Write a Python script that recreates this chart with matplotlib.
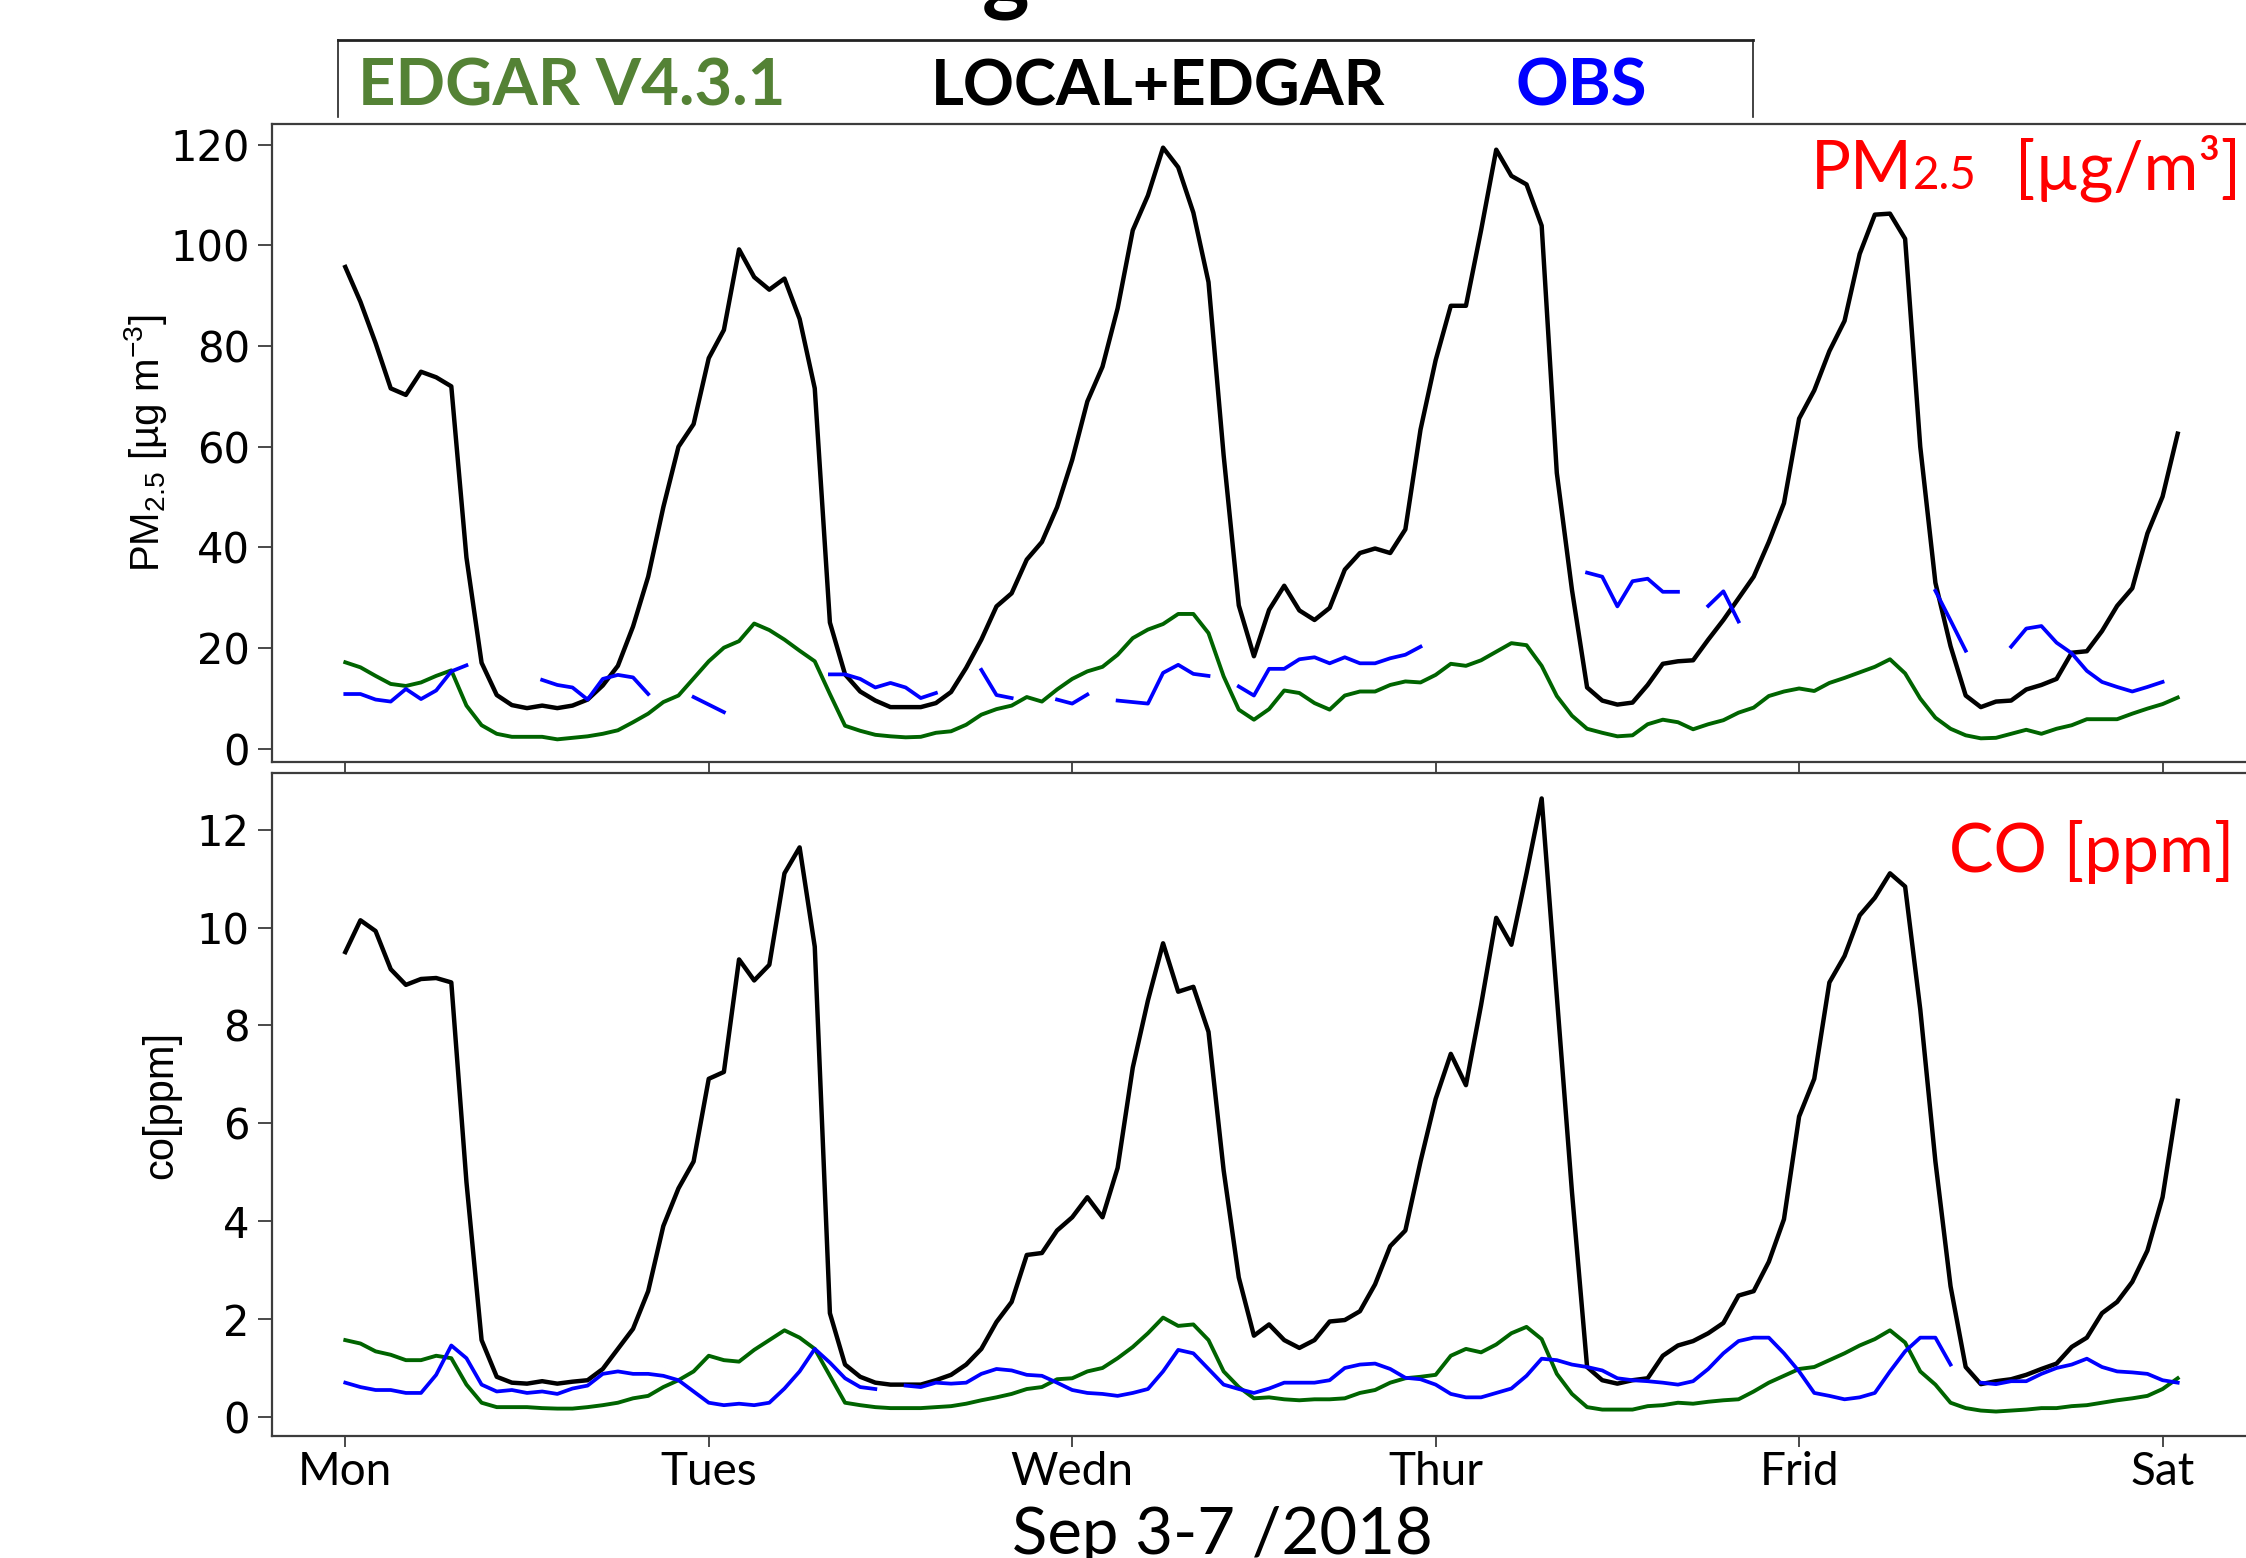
import numpy as np
import matplotlib
matplotlib.use("Agg")
import matplotlib.pyplot as plt
from matplotlib.lines import Line2D
from matplotlib.transforms import IdentityTransform

nan = np.nan

# ---------------- data (hourly, hour 0 = Mon 00:00) ----------------
hours = list(range(122))
day_ticks = [0, 24, 48, 72, 96, 120]
day_labels = ["Mon", "Tues", "Wedn", "Thur", "Frid", "Sat"]
pm_ticks = [0, 20, 40, 60, 80, 100, 120]
co_ticks = [0, 2, 4, 6, 8, 10, 12]

pm_local = [95.7, 88.8, 80.6, 71.6, 70.3, 74.9, 73.8, 72.0, 38.0, 17.1,
            10.7, 8.7, 8.1, 8.6, 8.1, 8.6, 9.8, 12.6, 16.5, 24.3,
            34.2, 48.0, 60.0, 64.5, 77.6, 83.2, 99.2, 93.7, 91.2, 93.4,
            85.4, 71.6, 25.1, 14.8, 11.4, 9.6, 8.3, 8.3, 8.3, 9.1,
            11.3, 16.1, 21.7, 28.3, 30.9, 37.6, 41.1, 48.0, 57.4, 69.0,
            75.9, 87.5, 103.0, 109.9, 119.4, 115.5, 106.5, 92.7, 58.3, 28.5,
            18.4, 27.6, 32.4, 27.5, 25.6, 28.0, 35.6, 38.9, 39.8, 38.9,
            43.6, 63.4, 77.2, 88.0, 88.0, 103.0, 119.0, 113.8, 112.1, 103.9,
            54.8, 31.6, 12.2, 9.6, 8.8, 9.2, 12.7, 16.9, 17.4, 17.6,
            21.7, 25.6, 29.9, 34.2, 41.1, 48.8, 65.6, 71.2, 79.0, 85.0,
            98.3, 106.1, 106.3, 101.3, 60.0, 33.0, 20.4, 10.6, 8.3, 9.4,
            9.6, 11.8, 12.7, 13.9, 19.1, 19.4, 23.4, 28.4, 31.9, 42.8,
            50.1, 62.6]

pm_edgar = [17.2, 16.2, 14.5, 12.9, 12.5, 13.2, 14.5, 15.6, 8.6, 4.7,
            3.0, 2.4, 2.4, 2.4, 1.9, 2.2, 2.5, 3.0, 3.7, 5.3,
            7.0, 9.3, 10.6, 14.0, 17.4, 20.1, 21.4, 24.9, 23.6, 21.7,
            19.5, 17.4, 10.9, 4.6, 3.6, 2.8, 2.5, 2.3, 2.4, 3.2,
            3.5, 4.8, 6.8, 7.9, 8.6, 10.3, 9.4, 11.8, 13.9, 15.4,
            16.3, 18.7, 22.0, 23.7, 24.8, 26.8, 26.8, 23.0, 14.4, 7.8,
            5.8, 7.9, 11.6, 11.1, 9.1, 7.8, 10.6, 11.4, 11.4, 12.7,
            13.4, 13.2, 14.7, 16.9, 16.5, 17.6, 19.3, 21.0, 20.6, 16.5,
            10.5, 6.6, 4.0, 3.2, 2.5, 2.7, 4.9, 5.8, 5.3, 3.9,
            4.9, 5.7, 7.2, 8.2, 10.5, 11.4, 12.0, 11.5, 13.1, 14.1,
            15.2, 16.3, 17.8, 15.0, 10.0, 6.2, 4.0, 2.7, 2.1, 2.2,
            3.0, 3.8, 3.0, 4.0, 4.7, 5.9, 5.9, 5.9, 7.0, 8.0,
            8.9, 10.2]

pm_obs = [10.9, 10.9, 9.8, 9.4, 11.9, 9.9, 11.6, 15.4, 16.6, nan,
          nan, nan, nan, 13.7, 12.7, 12.2, 9.8, 13.9, 14.7, 14.2,
          10.9, nan, nan, 10.3, 8.8, 7.3, nan, nan, nan, nan,
          nan, nan, 14.8, 14.8, 13.9, 12.2, 13.1, 12.2, 10.1, 11.1,
          nan, nan, 15.7, 10.7, 10.1, nan, nan, 9.8, 9.0, 10.8,
          nan, 9.6, 9.3, 9.0, 15.1, 16.7, 14.9, 14.5, nan, 12.4,
          10.6, 15.9, 15.9, 17.8, 18.2, 17.0, 18.2, 17.0, 17.0, 18.0,
          18.7, 20.3, nan, nan, nan, nan, nan, nan, nan, nan,
          nan, nan, 35.0, 34.2, 28.3, 33.3, 33.8, 31.2, 31.2, nan,
          28.4, 31.3, 25.3, nan, nan, nan, nan, nan, nan, nan,
          nan, nan, nan, nan, nan, 31.4, 25.5, 19.5, nan, nan,
          20.3, 23.9, 24.4, 21.1, 19.0, 15.5, 13.3, 12.3, 11.4, 12.3,
          13.3, nan]

co_local = [9.50, 10.15, 9.93, 9.15, 8.83, 8.95, 8.97, 8.88, 4.80, 1.57,
            0.82, 0.70, 0.68, 0.73, 0.68, 0.72, 0.75, 0.98, 1.39, 1.80,
            2.57, 3.90, 4.67, 5.22, 6.91, 7.05, 9.35, 8.92, 9.24, 11.11,
            11.64, 9.61, 2.12, 1.07, 0.82, 0.70, 0.66, 0.66, 0.66, 0.75,
            0.86, 1.07, 1.39, 1.94, 2.35, 3.31, 3.35, 3.81, 4.08, 4.49,
            4.08, 5.09, 7.14, 8.51, 9.68, 8.69, 8.79, 7.87, 5.04, 2.85,
            1.66, 1.89, 1.57, 1.41, 1.57, 1.95, 1.98, 2.16, 2.71, 3.49,
            3.81, 5.22, 6.50, 7.42, 6.78, 8.42, 10.20, 9.65, 11.11, 12.64,
            8.60, 4.60, 1.02, 0.75, 0.68, 0.75, 0.79, 1.25, 1.46, 1.55,
            1.71, 1.92, 2.48, 2.57, 3.17, 4.04, 6.14, 6.91, 8.88, 9.42,
            10.25, 10.61, 11.11, 10.84, 8.33, 5.22, 2.67, 1.02, 0.67, 0.73,
            0.77, 0.86, 0.98, 1.09, 1.43, 1.62, 2.12, 2.35, 2.76, 3.40,
            4.49, 6.46]

co_edgar = [1.57, 1.50, 1.34, 1.27, 1.16, 1.16, 1.25, 1.20, 0.66, 0.29,
            0.20, 0.20, 0.20, 0.18, 0.17, 0.17, 0.20, 0.24, 0.29, 0.38,
            0.43, 0.61, 0.75, 0.93, 1.25, 1.16, 1.13, 1.37, 1.57, 1.77,
            1.62, 1.39, 0.84, 0.29, 0.24, 0.20, 0.18, 0.18, 0.18, 0.20,
            0.22, 0.27, 0.34, 0.40, 0.47, 0.57, 0.61, 0.77, 0.79, 0.93,
            1.00, 1.20, 1.43, 1.71, 2.03, 1.86, 1.89, 1.57, 0.93, 0.61,
            0.38, 0.40, 0.36, 0.34, 0.36, 0.36, 0.38, 0.49, 0.55, 0.70,
            0.79, 0.82, 0.86, 1.25, 1.39, 1.32, 1.48, 1.71, 1.84, 1.59,
            0.88, 0.47, 0.20, 0.15, 0.15, 0.15, 0.22, 0.24, 0.29, 0.27,
            0.31, 0.34, 0.36, 0.52, 0.70, 0.84, 0.98, 1.02, 1.16, 1.30,
            1.46, 1.59, 1.77, 1.52, 0.93, 0.66, 0.29, 0.18, 0.13, 0.11,
            0.13, 0.15, 0.18, 0.18, 0.22, 0.24, 0.29, 0.34, 0.38, 0.43,
            0.57, 0.79]

co_obs = [0.70, 0.61, 0.55, 0.55, 0.49, 0.49, 0.86, 1.46, 1.20, 0.66,
          0.52, 0.55, 0.49, 0.52, 0.47, 0.58, 0.64, 0.88, 0.93, 0.88,
          0.88, 0.84, 0.75, 0.52, 0.29, 0.24, 0.27, 0.24, 0.29, 0.58,
          0.93, 1.39, 1.11, 0.79, 0.61, 0.57, nan, 0.64, 0.61, 0.70,
          0.68, 0.70, 0.88, 0.98, 0.95, 0.86, 0.84, 0.70, 0.55, 0.49,
          0.47, 0.43, 0.49, 0.57, 0.93, 1.37, 1.30, 0.98, 0.66, 0.57,
          0.49, 0.58, 0.70, 0.70, 0.70, 0.75, 1.00, 1.07, 1.09, 0.98,
          0.80, 0.77, 0.66, 0.47, 0.40, 0.40, 0.49, 0.58, 0.84, 1.19,
          1.16, 1.07, 1.02, 0.95, 0.79, 0.75, 0.73, 0.70, 0.66, 0.73,
          0.98, 1.30, 1.55, 1.62, 1.62, 1.30, 0.93, 0.49, 0.43, 0.36,
          0.40, 0.49, 0.93, 1.34, 1.62, 1.62, 1.07, nan, 0.70, 0.67,
          0.73, 0.73, 0.88, 1.00, 1.07, 1.19, 1.02, 0.93, 0.91, 0.88,
          0.75, 0.70]

# ---------------- figure ----------------
W, H, DPI = 2246, 1558, 100
plt.rcParams['mathtext.fontset'] = 'custom'
plt.rcParams['mathtext.rm'] = 'Liberation Sans'
plt.rcParams['mathtext.it'] = 'Liberation Sans:italic'
plt.rcParams['mathtext.bf'] = 'Liberation Sans:bold'

fig = plt.figure(figsize=(W / DPI, H / DPI), dpi=DPI)
fig.patch.set_facecolor('white')


def px_rect(left, top, right, bottom):
    return [left / W, 1 - bottom / H, (right - left) / W, (bottom - top) / H]


ax1 = fig.add_axes(px_rect(272, 124, 2251, 762))
ax2 = fig.add_axes(px_rect(272, 773, 2251, 1436))

C_LOCAL = 'black'
C_EDGAR = '#006400'
C_OBS = '#0000ff'
FRAME = '#3c3c3c'

for ax, loc, edg, obs in ((ax1, pm_local, pm_edgar, pm_obs),
                          (ax2, co_local, co_edgar, co_obs)):
    ax.plot(hours, loc, color=C_LOCAL, lw=3.2)
    ax.plot(hours, edg, color=C_EDGAR, lw=2.8)
    ax.plot(hours, obs, color=C_OBS, lw=2.7)
    ax.set_xlim(-4.84, 125.84)
    ax.set_xticks(day_ticks)
    for s in ax.spines.values():
        s.set_color(FRAME)
        s.set_linewidth(1.6)
    ax.tick_params(axis='y', direction='out', length=10, width=1.3,
                   color=FRAME, pad=6)
    ax.tick_params(axis='x', direction='out', length=8, width=1.3,
                   color=FRAME, pad=3)

ax1.set_ylim(-2.6, 124.1)
ax1.set_yticks(pm_ticks)
ax1.set_yticklabels([str(v) for v in pm_ticks], family='DejaVu Sans', fontsize=30)
ax1.set_xticklabels([])

ax2.set_ylim(-0.39, 13.16)
ax2.set_yticks(co_ticks)
ax2.set_yticklabels([str(v) for v in co_ticks], family='DejaVu Sans', fontsize=30)
ax2.set_xticklabels(day_labels, family='Lato', fontsize=33)

ax1.set_ylabel(r'PM$_{2.5}$ [µg m$^{-3}$]', family='Liberation Sans', fontsize=29)
ax1.yaxis.set_label_coords(-0.052, 0.5)
ax2.set_ylabel('co[ppm]', family='Liberation Sans', fontsize=30)
ax2.yaxis.set_label_coords(-0.046, 0.5)

# ---------------- figure-level texts ----------------
ident = IdentityTransform()
renderer = fig.canvas.get_renderer()


def chain(x, y_top_px, parts):
    """place consecutive text pieces on one baseline (pixel coords from top)"""
    for s, size, kw in parts:
        t = fig.text(x, H - y_top_px, s, transform=ident, ha='left',
                     va='baseline', fontsize=size, **kw)
        x = t.get_window_extent(renderer).x1
    return x


red = dict(color='#ff0000', family='Lato')
chain(1811, 189, [('PM', 48, red), ('2.5', 33, red)])
chain(2015, 189, [('[µg/m³]', 48, red)])
chain(1949, 872, [('CO [ppm]', 48, red)])

# legend box
box_kw = dict(transform=ident, color='#222222')
fig.add_artist(Line2D([338, 1753], [H - 40, H - 40], lw=2.0, **box_kw))
fig.add_artist(Line2D([338, 338], [H - 40, H - 117], lw=1.2, **box_kw))
fig.add_artist(Line2D([1753, 1753], [H - 40, H - 117], lw=1.2, **box_kw))

leg = dict(family='Lato', weight='bold', fontsize=47)
fig.text(358, H - 106, 'EDGAR V4.3.1', transform=ident, va='baseline',
         color='#548235', **leg)
fig.text(931, H - 106, 'LOCAL+EDGAR', transform=ident, va='baseline',
         color='black', fontsize=45.5, family='Lato', weight='bold')
fig.text(1515, H - 106, 'OBS', transform=ident, va='baseline',
         color='#0000ff', **leg)

# cut-off title (only the descender of "g" is visible)
fig.text(1006, H - 3, 'g', transform=ident, ha='center', va='baseline',
         family='Lato', weight='bold', fontsize=65, color='black')

# x-axis caption
fig.text(1222, H - 1554, 'Sep 3-7 /2018', transform=ident, ha='center',
         va='baseline', family='Lato', fontsize=47, color='black')

fig.savefig('out.png', dpi=DPI, facecolor='white')
